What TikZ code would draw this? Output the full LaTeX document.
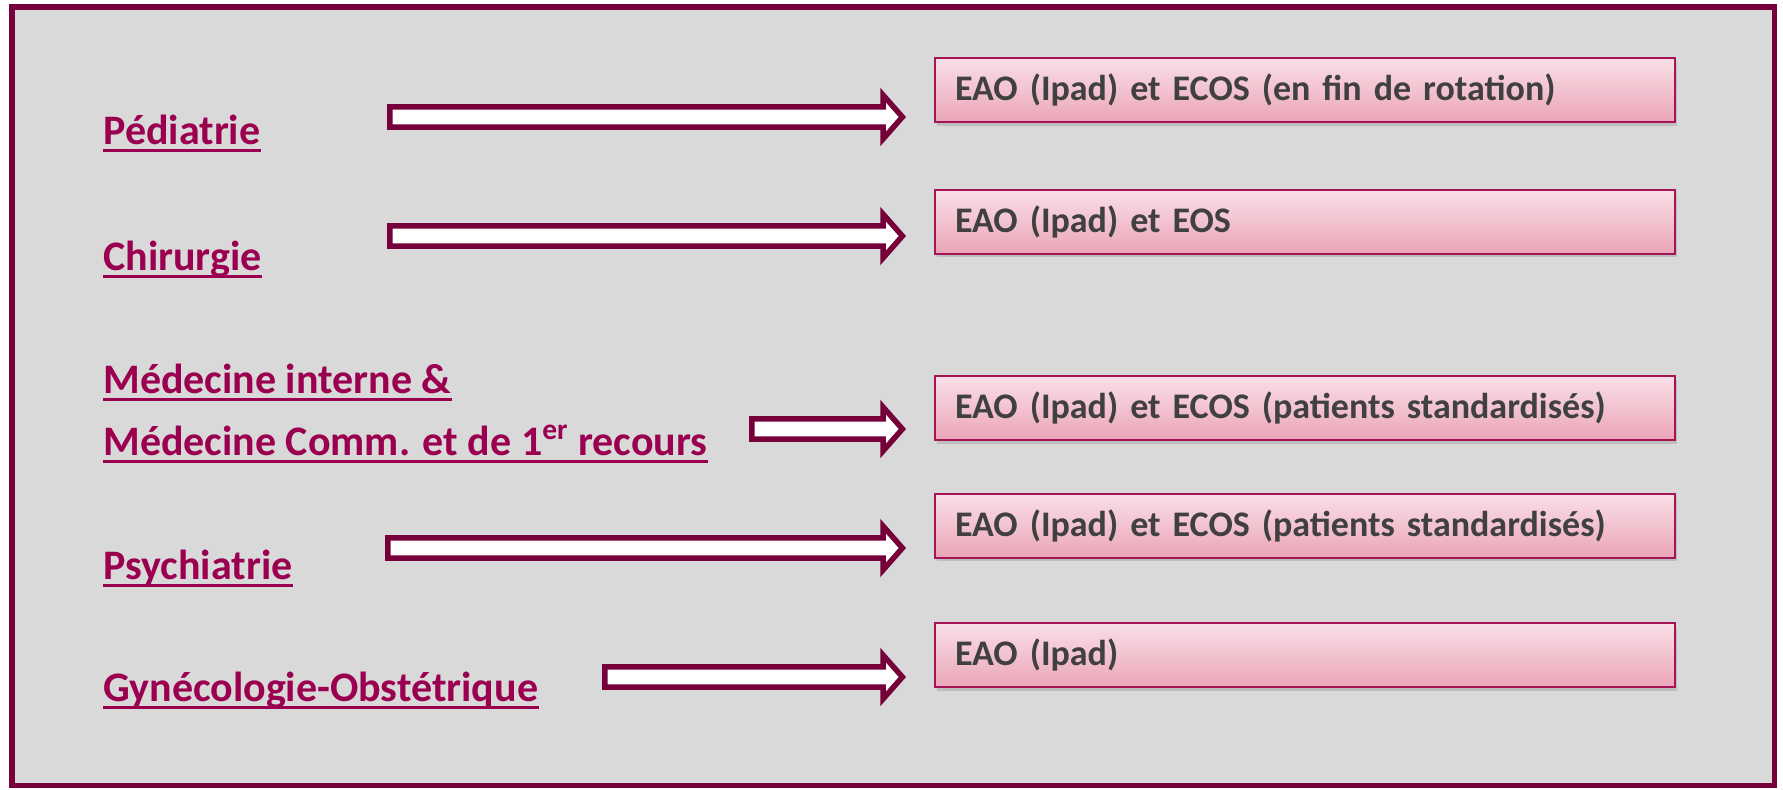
\documentclass[tikz,border=0pt]{standalone}
\usepackage{fontspec}
\setmainfont{Carlito}
\usetikzlibrary{calc, shadows, positioning}
\definecolor{framemaroon}{RGB}{117,0,58}
\definecolor{labelcrimson}{RGB}{155,0,80}
\definecolor{boxedge}{RGB}{165,20,85}
\definecolor{boxtop}{RGB}{249,223,231}
\definecolor{boxbottom}{RGB}{235,165,184}
\definecolor{boxtext}{RGB}{64,64,64}
\definecolor{panelgray}{RGB}{217,217,217}

% hollow block arrow from a start coordinate to just before a box
\newcommand{\fatarrow}[2]{%
  \draw[fatarrow] let \p1=(#1), \p2=(#2.west) in
    (\x1,\y1+5.1pt) -- (\x2-25.5pt,\y1+5.1pt) -- (\x2-25.5pt,\y1+11pt) -- (\x2-15.8pt,\y1)
    -- (\x2-25.5pt,\y1-11pt) -- (\x2-25.5pt,\y1-5.1pt) -- (\x1,\y1-5.1pt) -- cycle;}

\begin{document}
\begin{tikzpicture}[x=0.5pt, y=-0.5pt,
    section/.style={anchor=base west, inner sep=0pt, text=labelcrimson, font=\fontsize{21}{25}\selectfont\bfseries},
    underline/.style={draw=labelcrimson, line width=1.35pt},
    exambox/.style={draw=boxedge, line width=1pt, top color=boxtop, bottom color=boxbottom,
      minimum width=370pt, minimum height=32pt, text width=350pt, inner xsep=10pt, align=left,
      text=boxtext, font=\fontsize{18}{22}\selectfont\bfseries,
      drop shadow={shadow xshift=1.2pt, shadow yshift=-1.8pt, opacity=0.3}},
    fatarrow/.style={draw=framemaroon, fill=white, line width=2.75pt, line join=miter}]
    \useasboundingbox[fill=white] (0,0) rectangle (1783,789);

    % Outer panel
    \draw[framemaroon, line width=2.75pt, fill=panelgray] (12,7) rectangle (1774.5,785.5);

    % Exam boxes on the right
    \node[exambox] (pediabox) at (1305,90) {EAO (Ipad) et ECOS (en fin de rotation)};
    \node[exambox] (chirbox) at (1305,221.5) {EAO (Ipad) et EOS};
    \node[exambox] (medbox) at (1305,408) {EAO (Ipad) et ECOS (patients standardisés)};
    \node[exambox] (psybox) at (1305,525.5) {EAO (Ipad) et ECOS (patients standardisés)};
    \node[exambox] (gynbox) at (1305,655) {EAO (Ipad)};

    % Section labels on the left
    \node[section] (pedia) at (103,144) {Pédiatrie};
    \node[section] (chir) at (103,270) {Chirurgie};
    \node[section] (medint) at (103,393) {Médecine interne \&};
    \node[section] (medcomm) at (103,455) {Médecine Comm. et de 1\textsuperscript{er} recours};
    \node[section] (psy) at (103,579) {Psychiatrie};
    \node[section] (gyn) at (103,701) {Gynécologie-Obstétrique};

    % Underlines below each label
    \foreach \lab in {pedia, chir, medint, medcomm, psy, gyn} {
      \draw[underline] ([yshift=-3.1pt]\lab.base west) -- ([yshift=-3.1pt]\lab.base east);
    }

    % Arrow start points
    \coordinate (pedia-s) at (389.75,117);
    \coordinate (chir-s) at (389.75,236);
    \coordinate (med-s) at (751.75,429);
    \coordinate (psy-s) at (387.75,548);
    \coordinate (gyn-s) at (604.75,677);

    % Arrows from sections to boxes
    \fatarrow{pedia-s}{pediabox}
    \fatarrow{chir-s}{chirbox}
    \fatarrow{med-s}{medbox}
    \fatarrow{psy-s}{psybox}
    \fatarrow{gyn-s}{gynbox}
\end{tikzpicture}
\end{document}
